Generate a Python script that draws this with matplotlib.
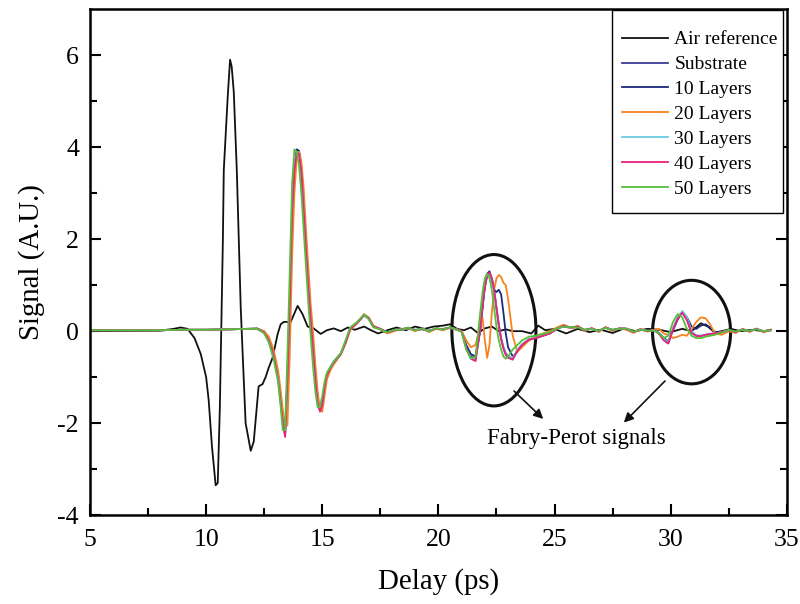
import matplotlib
matplotlib.use("Agg")
import matplotlib.pyplot as plt
from matplotlib.patches import Ellipse, Rectangle
import numpy as np

plt.rcParams['font.family'] = ['Liberation Serif', 'DejaVu Serif']
plt.rcParams['axes.unicode_minus'] = False

# ---------------- data ----------------
t_air = [5.0, 8.0, 8.6, 8.9, 9.2, 9.5, 9.77, 10.0, 10.11, 10.25, 10.41, 10.5, 10.59, 10.72,
         10.76, 10.93, 11.03, 11.1, 11.19, 11.32, 11.49, 11.58, 11.7, 11.92, 12.05, 12.26,
         12.43, 12.56, 12.69, 12.86, 13.08, 13.21, 13.34, 13.64, 13.94, 14.15, 14.37, 14.63,
         14.93, 15.2, 15.49, 15.8, 16.1, 16.4, 16.8, 17.1, 17.4, 17.8, 18.2, 18.6, 19.0, 19.4,
         19.8, 20.2, 20.5, 20.8, 21.1, 21.4, 21.7, 22.0, 22.3, 22.6, 22.9, 23.2, 23.6, 24.0,
         24.3, 24.6, 25.0, 25.5, 26.0, 26.5, 27.0, 27.5, 28.0, 28.5, 29.0, 29.5, 30.0, 30.5,
         30.9, 31.3, 31.6, 31.9, 32.2, 32.6, 33.0, 33.5, 34.0, 34.3]
air = [0.0, 0.01, 0.05, 0.08, 0.05, -0.15, -0.5, -1.0, -1.5, -2.5, -3.35, -3.3, -1.67, 1.95,
       3.5, 5.1, 5.9, 5.75, 5.2, 3.5, 0.5, -0.58, -2.0, -2.6, -2.4, -1.2,
       -1.15, -1.0, -0.8, -0.58, -0.06, 0.15, 0.2, 0.2, 0.55, 0.37, 0.1, 0.06,
       -0.06, 0.02, 0.06, 0.0, 0.08, 0.03, 0.1, 0.02, -0.05, 0.02, 0.08, 0.02, 0.1, 0.05,
       0.1, 0.12, 0.15, 0.05, 0.02, 0.08, -0.04, 0.06, 0.1, 0.0, 0.04, 0.0, 0.0, -0.05,
       0.12, 0.02, 0.05, -0.05, 0.05, -0.02, 0.03, -0.04, 0.06, 0.0, 0.05, 0.03, -0.02, 0.05,
       0.0, 0.17, 0.1, -0.03, 0.0, 0.05, 0.0, 0.03, 0.0, 0.02]

t_layers = [5.0, 6.0, 7.0, 8.0, 9.0, 10.0, 11.0, 11.8, 12.2,
            12.5, 12.7, 12.9, 13.1, 13.2, 13.3, 13.4, 13.5, 13.6, 13.7, 13.8, 13.9, 14.0,
            14.1, 14.2, 14.3, 14.4, 14.5, 14.6, 14.7, 14.8, 14.9, 15.0, 15.1, 15.2, 15.35,
            15.5, 15.8, 16.0, 16.2, 16.5, 16.8, 17.0, 17.2, 17.5,
            17.8, 18.1, 18.4, 18.7, 19.0, 19.3, 19.6, 19.9, 20.2, 20.5, 20.8,
            21.0, 21.2, 21.4, 21.6, 21.8, 21.9, 22.0, 22.1, 22.2, 22.3, 22.4, 22.5, 22.6,
            22.7, 22.8, 22.9, 23.0, 23.2, 23.4, 23.6, 23.9, 24.2, 24.5, 24.8, 25.1,
            25.4, 25.7, 26.0, 26.3, 26.6, 26.9, 27.2, 27.5, 27.8, 28.1, 28.4, 28.7, 29.0, 29.3,
            29.5, 29.7, 29.9, 30.1, 30.3, 30.5, 30.7, 30.9, 31.1, 31.3, 31.5, 31.7, 31.9, 32.2,
            32.5, 32.8, 33.1, 33.4, 33.7, 34.0, 34.3]

substrate = [0.02, 0.02, 0.02, 0.02, 0.03, 0.03, 0.04, 0.05, 0.05,
             -0.02, -0.2, -0.5, -1.0, -1.45, -1.95, -2.25, -1.0, 0.6, 2.5, 3.5, 3.9, 3.9,
             3.5, 2.7, 1.8, 1.0, 0.3, -0.35, -1.0, -1.5, -1.72, -1.6, -1.2, -0.95, -0.8,
             -0.68, -0.5, -0.25, 0.05, 0.18, 0.36, 0.28, 0.1, 0.05,
             -0.03, 0.02, 0.04, 0.07, 0.02, 0.05, 0.0, 0.06, 0.04, 0.08, 0.04,
             0.0, -0.35, -0.55, -0.6, 0.05, 0.55, 0.95, 1.2, 1.27, 1.15, 0.9, 0.5, 0.15,
             -0.15, -0.35, -0.48, -0.55, -0.6, -0.42, -0.3, -0.18, -0.15, -0.1, -0.05, 0.05,
             0.12, 0.08, 0.1, 0.02, 0.06, 0.0, 0.08, 0.02, 0.06, 0.05, -0.02, 0.04, 0.0, 0.02,
             -0.05, -0.18, -0.25, 0.05, 0.28, 0.42, 0.26, -0.03, -0.1, -0.1, -0.08, -0.06, -0.05, -0.02,
             0.02, -0.02, 0.04, 0.0, 0.05, -0.01, 0.03]

layers10 = [0.02, 0.02, 0.02, 0.02, 0.03, 0.03, 0.04, 0.05, 0.06,
            -0.01, -0.18, -0.48, -0.98, -1.42, -1.9, -2.2, -1.05, 0.55, 2.45, 3.5, 3.95, 3.92,
            3.55, 2.75, 1.85, 1.05, 0.32, -0.32, -0.95, -1.45, -1.7, -1.62, -1.25, -0.95, -0.78,
            -0.66, -0.48, -0.24, 0.04, 0.17, 0.35, 0.27, 0.11, 0.04,
            -0.02, 0.03, 0.03, 0.06, 0.03, 0.04, 0.01, 0.05, 0.05, 0.07, 0.03,
            0.0, -0.3, -0.5, -0.55, 0.0, 0.5, 1.0, 1.25, 1.3, 1.1, 0.9, 0.85, 0.9,
            0.8, 0.4, -0.05, -0.35, -0.55, -0.45, -0.3, -0.2, -0.12, -0.08, -0.03, 0.06,
            0.1, 0.07, 0.09, 0.03, 0.05, 0.01, 0.07, 0.03, 0.05, 0.04, -0.01, 0.03, 0.01, 0.02,
            -0.04, -0.15, -0.22, 0.02, 0.25, 0.42, 0.3, 0.1, 0.05, 0.12, 0.15, 0.08, -0.02, -0.03,
            0.03, -0.01, 0.03, 0.01, 0.04, 0.0, 0.02]

layers20 = [0.02, 0.02, 0.02, 0.02, 0.03, 0.03, 0.04, 0.05, 0.05,
            0.0, -0.12, -0.4, -0.85, -1.25, -1.7, -2.05, -2.05, -0.5, 1.6, 3.0, 3.75, 3.9,
            3.7, 3.1, 2.2, 1.4, 0.6, 0.0, -0.7, -1.3, -1.7, -1.75, -1.4, -1.05, -0.85,
            -0.72, -0.5, -0.28, 0.02, 0.17, 0.37, 0.3, 0.12, 0.04,
            -0.05, 0.0, 0.05, 0.06, 0.0, 0.06, -0.02, 0.05, 0.02, 0.07, 0.03,
            0.0, -0.2, -0.35, -0.3, 0.1, 0.3, -0.2, -0.58, -0.3, 0.4, 0.9, 1.15, 1.22,
            1.18, 1.05, 1.0, 0.7, -0.1, -0.45, -0.35, -0.2, -0.1, -0.05, 0.0, 0.08,
            0.14, 0.06, 0.12, 0.0, 0.07, -0.02, 0.09, 0.0, 0.07, 0.03, -0.04, 0.05, -0.01, 0.03,
            0.05, -0.05, -0.08, -0.15, -0.12, -0.08, -0.1, 0.05, 0.2, 0.3, 0.28, 0.15, -0.05, -0.08,
            0.0, -0.04, 0.05, -0.02, 0.06, -0.03, 0.03]

layers30 = [0.02, 0.02, 0.02, 0.02, 0.03, 0.03, 0.04, 0.05, 0.05,
            -0.03, -0.22, -0.52, -1.02, -1.48, -1.98, -2.25, -0.95, 0.7, 2.6, 3.55, 3.9, 3.85,
            3.45, 2.65, 1.75, 0.95, 0.25, -0.4, -1.05, -1.52, -1.72, -1.58, -1.18, -0.93, -0.8,
            -0.68, -0.5, -0.24, 0.05, 0.18, 0.36, 0.28, 0.1, 0.05,
            -0.02, 0.02, 0.04, 0.06, 0.02, 0.05, 0.01, 0.06, 0.04, 0.07, 0.04,
            0.0, -0.38, -0.58, -0.62, 0.08, 0.6, 1.0, 1.22, 1.25, 1.12, 0.88, 0.48, 0.12,
            -0.17, -0.37, -0.5, -0.56, -0.58, -0.4, -0.28, -0.17, -0.14, -0.09, -0.04, 0.05,
            0.11, 0.08, 0.1, 0.02, 0.05, 0.0, 0.07, 0.02, 0.06, 0.05, -0.02, 0.04, 0.0, 0.02,
            -0.05, -0.17, -0.24, 0.06, 0.3, 0.44, 0.3, 0.0, -0.09, -0.1, -0.08, -0.06, -0.05, -0.02,
            0.02, -0.02, 0.04, 0.0, 0.05, -0.01, 0.03]

layers40 = [0.02, 0.02, 0.02, 0.02, 0.03, 0.03, 0.04, 0.05, 0.05,
            -0.03, -0.22, -0.52, -1.05, -1.5, -2.0, -2.3, -1.0, 0.65, 2.55, 3.5, 3.88, 3.85,
            3.45, 2.65, 1.75, 0.95, 0.25, -0.4, -1.05, -1.55, -1.75, -1.6, -1.2, -0.95, -0.8,
            -0.68, -0.5, -0.25, 0.05, 0.18, 0.35, 0.28, 0.1, 0.05,
            -0.03, 0.02, 0.04, 0.07, 0.02, 0.05, 0.0, 0.06, 0.04, 0.08, 0.04,
            0.0, -0.38, -0.6, -0.65, 0.05, 0.55, 0.97, 1.22, 1.27, 1.15, 0.9, 0.5, 0.13,
            -0.18, -0.38, -0.52, -0.58, -0.62, -0.43, -0.3, -0.18, -0.15, -0.1, -0.05, 0.05,
            0.12, 0.08, 0.1, 0.02, 0.06, 0.0, 0.08, 0.02, 0.06, 0.05, -0.02, 0.04, 0.0, 0.02,
            -0.06, -0.2, -0.27, 0.03, 0.27, 0.4, 0.24, -0.04, -0.1, -0.11, -0.08, -0.06, -0.05, -0.02,
            0.02, -0.02, 0.04, 0.0, 0.05, -0.01, 0.03]

layers50 = [0.02, 0.02, 0.02, 0.02, 0.03, 0.03, 0.04, 0.05, 0.05,
            -0.05, -0.25, -0.6, -1.1, -1.6, -2.15, -2.15, -0.5, 1.3, 3.2, 3.95, 3.9, 3.6,
            3.0, 2.2, 1.4, 0.6, -0.1, -0.75, -1.3, -1.65, -1.65, -1.4, -1.1, -0.9, -0.78,
            -0.66, -0.48, -0.2, 0.08, 0.2, 0.36, 0.26, 0.08, 0.04,
            -0.03, 0.03, 0.03, 0.08, 0.01, 0.06, -0.01, 0.07, 0.03, 0.09, 0.03,
            -0.02, -0.4, -0.6, -0.55, 0.4, 0.85, 1.15, 1.25, 1.15, 0.9, 0.5, 0.1, -0.2,
            -0.4, -0.55, -0.6, -0.55, -0.4, -0.3, -0.2, -0.12, -0.1, -0.06, -0.02, 0.06,
            0.1, 0.09, 0.08, 0.03, 0.05, 0.01, 0.07, 0.03, 0.05, 0.06, -0.01, 0.03, 0.01, 0.01,
            -0.05, -0.15, -0.1, 0.2, 0.37, 0.3, 0.05, -0.1, -0.15, -0.15, -0.12, -0.1, -0.08, -0.03,
            0.03, -0.01, 0.03, 0.01, 0.04, 0.0, 0.02]

labels = ["Air reference", "Substrate", "10 Layers", "20 Layers", "30 Layers", "40 Layers", "50 Layers"]
colors = ["#111111", "#3c3c96", "#1a2a7c", "#f7821e", "#6ccbe0", "#e8207e", "#58bf3c"]

xticks = [5, 10, 15, 20, 25, 30, 35]
yticks = [-4, -2, 0, 2, 4, 6]

# ---------------- figure ----------------
fig = plt.figure(figsize=(8.0, 6.04), dpi=100)
ax = fig.add_axes([0.1125, 0.147, 0.871, 0.838])

series = [air, substrate, layers10, layers20, layers30, layers40, layers50]
for i, (vals, lab, col) in enumerate(zip(series, labels, colors)):
    tt = t_air if i == 0 else t_layers
    ax.plot(tt, vals, color=col, lw=1.3, label=lab)

ax.set_xlim(5, 35)
ax.set_ylim(-4, 7)
ax.set_xticks(xticks)
ax.set_yticks(yticks)
ax.set_xticks(np.arange(7.5, 35, 5), minor=True)
ax.set_yticks(np.arange(-3, 7, 2), minor=True)
ax.tick_params(which='both', direction='in', right=True, top=False, width=1.5)
ax.tick_params(axis='x', which='major', length=8, pad=10, labelsize=18.5)
ax.tick_params(axis='y', which='major', length=8, pad=8, labelsize=18.5)
ax.tick_params(which='minor', length=5)
for s in ax.spines.values():
    s.set_linewidth(1.8)

ax.set_xlabel("Delay (ps)", fontsize=20.8, labelpad=12)
ax.set_ylabel("Signal (A.U.)", fontsize=20.8, labelpad=9)

# legend: frame drawn as a rectangle so its padding can match the reference
leg = ax.legend(loc='upper right', bbox_to_anchor=(0.987, 0.957), fontsize=14,
                frameon=False, handlelength=2.35, labelspacing=0.375, borderpad=0.0,
                handletextpad=0.35, borderaxespad=0.0)
leg.set_zorder(6)
ax.add_patch(Rectangle((0.749, 0.597), 0.245, 0.401, transform=ax.transAxes,
                       facecolor='white', edgecolor='black', lw=1.0, zorder=5))

ax.add_patch(Ellipse((22.39, 0.02), 3.62, 3.29, fill=False, lw=2.2, edgecolor='#111111'))
ax.add_patch(Ellipse((30.9, -0.02), 3.36, 2.25, fill=False, lw=2.2, edgecolor='#111111'))

ax.annotate("", xy=(24.6, -1.95), xytext=(23.17, -1.26),
            arrowprops=dict(arrowstyle='-|>', color='#111111', lw=1.2, mutation_scale=14))
ax.annotate("", xy=(27.9, -2.03), xytext=(29.84, -1.04),
            arrowprops=dict(arrowstyle='-|>', color='#111111', lw=1.2, mutation_scale=14))
ax.text(22.1, -2.34, "Fabry-Perot signals", fontsize=16.5, va='center', ha='left')

fig.savefig("out.png", dpi=100)
